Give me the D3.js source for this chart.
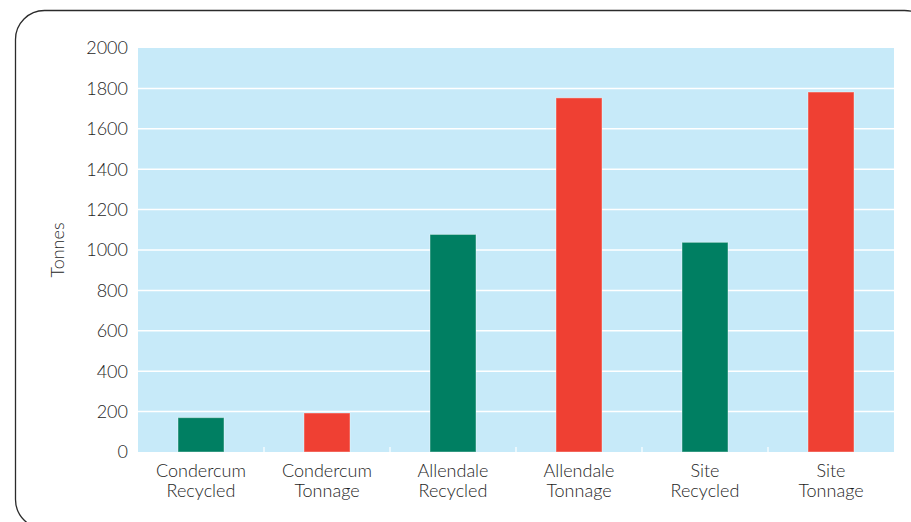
<!DOCTYPE html>
<html>
<head>
<meta charset="utf-8">
<script src="https://cdn.jsdelivr.net/npm/d3@7"></script>
<style>
	body { margin: 0; background: #fff; }
	svg text { font-family: Lato, "Open Sans", sans-serif; font-weight: 300; fill: #1e1e1e; }
</style>
</head>
<body>
<script>
// Chart data
const categories = ["Condercum Recycled", "Condercum Tonnage", "Allendale Recycled", "Allendale Tonnage", "Site Recycled", "Site Tonnage"];
const tonnes = [170, 193, 1077, 1753, 1038, 1782];
const barKinds = ["recycled", "tonnage", "recycled", "tonnage", "recycled", "tonnage"];
const yTicks = [0, 200, 400, 600, 800, 1000, 1200, 1400, 1600, 1800, 2000];

const width = 911, height = 522;
const margin = {top: 48, right: 17, bottom: 70, left: 138};

const svg = d3.select("body").append("svg")
	.attr("width", width)
	.attr("height", height);

// Rounded frame (runs off the right and bottom edges)
svg.append("rect")
	.attr("x", 15.5)
	.attr("y", 10.5)
	.attr("width", 918)
	.attr("height", 518)
	.attr("rx", 29)
	.attr("fill", "none")
	.attr("stroke", "#2b2b2b")
	.attr("stroke-width", 1.3);

const x = d3.scaleBand()
	.domain(categories)
	.range([margin.left, width - margin.right])
	.paddingInner(0.635)
	.paddingOuter(0.3175);

const y = d3.scaleLinear()
	.domain([0, 2000])
	.range([height - margin.bottom, margin.top]);

// plot background
svg.append("rect")
	.attr("x", margin.left)
	.attr("y", margin.top)
	.attr("width", width - margin.right - margin.left)
	.attr("height", y(0) - margin.top)
	.attr("fill", "#c7eaf9");

// gridlines
svg.selectAll(".grid")
	.data(yTicks.filter(d => d > 0 && d < 2000))
	.enter().append("line")
	.attr("class", "grid")
	.attr("x1", margin.left)
	.attr("x2", width - margin.right)
	.attr("y1", d => y(d))
	.attr("y2", d => y(d))
	.attr("stroke", "#fff")
	.attr("stroke-width", 1.5);

// small white ticks between categories
const step = x.step();
svg.selectAll(".sep")
	.data(categories.slice(1))
	.enter().append("line")
	.attr("class", "sep")
	.attr("x1", d => x(d) - step * 0.3175)
	.attr("x2", d => x(d) - step * 0.3175)
	.attr("y1", y(0))
	.attr("y2", y(0) - 5)
	.attr("stroke", "#fff")
	.attr("stroke-width", 1.2);

// bars
svg.selectAll(".bar")
	.data(categories)
	.enter().append("rect")
	.attr("class", "bar")
	.attr("x", d => x(d))
	.attr("width", x.bandwidth())
	.attr("y", (d, i) => y(tonnes[i]))
	.attr("height", (d, i) => y(0) - y(tonnes[i]))
	.attr("fill", (d, i) => barKinds[i] === "recycled" ? "#007f62" : "#ef4033")
	.attr("stroke", "rgba(255,255,255,0.4)")
	.attr("stroke-width", 1);

// y axis labels
svg.selectAll(".ylab")
	.data(yTicks)
	.enter().append("text")
	.attr("class", "ylab")
	.attr("x", margin.left - 10)
	.attr("y", d => y(d))
	.attr("dy", "0.35em")
	.attr("text-anchor", "end")
	.style("font-size", "18px")
	.text(d => d);

// x axis labels, two lines each
const xl = svg.selectAll(".xlab")
	.data(categories)
	.enter().append("text")
	.attr("class", "xlab")
	.attr("text-anchor", "middle")
	.style("font-size", "18px");

xl.selectAll("tspan")
	.data(d => d.split(" ").map(w => ({w, c: d})))
	.enter().append("tspan")
	.attr("x", d => x(d.c) + x.bandwidth() / 2)
	.attr("y", (d, i) => 477 + i * 20)
	.text(d => d.w);

// y axis title
svg.append("text")
	.attr("transform", `translate(64, ${(y(0) + margin.top) / 2}) rotate(-90)`)
	.attr("text-anchor", "middle")
	.style("font-size", "18px")
	.text("Tonnes");
</script>
</body>
</html>
